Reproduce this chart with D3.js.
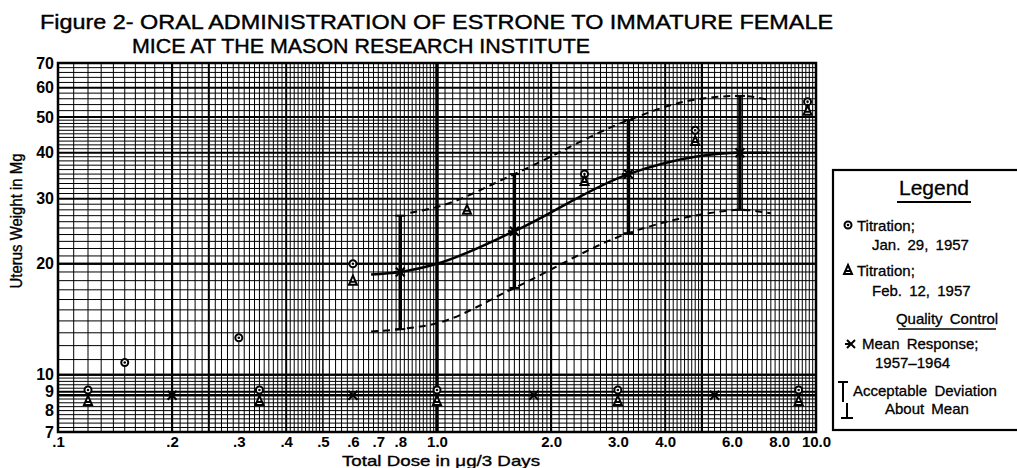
<!DOCTYPE html>
<html><head><meta charset="utf-8">
<script src="https://cdn.jsdelivr.net/npm/d3@7"></script>
<style>
body{margin:0;background:#fff;}
svg{display:block;font-family:"Liberation Sans",Arial,sans-serif;}
</style></head>
<body>
<svg id="c" width="1017" height="468"></svg>
<script>
// ---------- DATA ----------
const titleLines = ["Figure 2- ORAL ADMINISTRATION OF ESTRONE TO IMMATURE FEMALE","MICE AT THE MASON RESEARCH INSTITUTE"];
const xTickValues = [0.1,0.2,0.3,0.4,0.5,0.6,0.7,0.8,1,2,3,4,6,8,10];
const xTickLabels = [".1",".2",".3",".4",".5",".6",".7",".8","1.0","2.0","3.0","4.0","6.0","8.0","10.0"];
const yTickValues = [70,60,50,40,30,20,10,9,8,7];
const yTickLabels = ["70","60","50","40","30","20","10","9","8","7"];

// Quality control: mean response curve and deviation limits (dose, weight)
const meanDose   = [0.67,0.8,1.0,1.6,3.2,4.8,6.3,7.5];
const meanWeight = [18.7,19.0,20.0,24.5,35.0,39.0,40.0,40.0];
const upperDose   = [0.85,1.0,1.6,3.2,4.5,6.3,7.6];
const upperWeight = [27.5,28.5,35.0,49.0,55.0,57.0,55.5];
const lowerDose   = [0.67,0.8,1.0,1.6,3.2,5.2,6.3,7.6];
const lowerWeight = [13.1,13.3,13.8,17.2,24.2,27.4,28.0,27.4];

// Mean response points with acceptable deviation bars
const qcDose = [0.8,1.6,3.2,6.3];
const qcMean = [19.0,24.5,35.0,40.0];
const qcLow  = [13.3,17.2,24.2,28.0];
const qcHigh = [27.0,35.0,49.0,57.0];

// Titration Jan. 29, 1957 (circles)
const janDose   = [0.15,0.3,0.6,2.45,4.8,9.5];
const janWeight = [10.8,12.6,20.0,35.0,46.0,55.0];
// Titration Feb. 12, 1957 (triangles)
const febDose   = [0.6,1.2,2.45,4.8,9.5];
const febWeight = [18.0,28.0,33.5,43.0,52.0];

// Control row along ~9 mg
const controlLevel = 8.8;
const controlMeanDose = [0.2,0.6,1.8,5.4];
const controlTitrDose = [0.12,0.34,1.0,3.0,9.0];
const controlJanWeight = 9.1;
const controlFebWeight = 8.5;

// ---------- CHART ----------
const svg = d3.select("#c");
const L=58, R=816, T=63, B=432;
const x = d3.scaleLog().domain([0.1,10]).range([L,R]);
const y = d3.scaleLog().domain([7,70]).range([B,T]);

// Title
svg.append("text").attr("x",40).attr("y",29).attr("font-size",20).attr("textLength",793)
  .attr("lengthAdjust","spacingAndGlyphs").attr("stroke","#000").attr("stroke-width",0.4).text(titleLines[0]);
svg.append("text").attr("x",132).attr("y",53).attr("font-size",20).attr("textLength",458)
  .attr("lengthAdjust","spacingAndGlyphs").attr("stroke","#000").attr("stroke-width",0.4).text(titleLines[1]);

// Graph-paper grid
const grid = svg.append("g");
function rng(a,b,s){const out=[];for(let v=a;v<=b+1e-9;v+=s)out.push(+v.toFixed(4));return out;}
const vLines = [].concat(rng(0.1,0.2,0.01),rng(0.2,0.5,0.01),rng(0.5,1,0.02),rng(1,2,0.05),rng(2,5,0.1),rng(5,10,0.2));
const hLines = [].concat(rng(7,10,0.2),rng(10,20,1),rng(20,50,1),rng(50,70,2));
const vMajor = [0.2,0.25,0.4,1,2,4,5];
const hMajor = [9,10,20,30,40,50,60];
grid.selectAll(".v").data(vLines).join("line")
  .attr("x1",d=>x(d)).attr("x2",d=>x(d)).attr("y1",T).attr("y2",B)
  .attr("stroke","#000").attr("stroke-width",d=>vMajor.some(m=>Math.abs(m-d)<1e-6)?(d===1?3:2):1);
grid.selectAll(".h").data(hLines).join("line")
  .attr("x1",L).attr("x2",R).attr("y1",d=>y(d)).attr("y2",d=>y(d))
  .attr("stroke","#000").attr("stroke-width",d=>hMajor.some(m=>Math.abs(m-d)<1e-6)?2:1);
svg.append("rect").attr("x",L).attr("y",T).attr("width",R-L).attr("height",B-T)
  .attr("fill","none").attr("stroke","#000").attr("stroke-width",2.5);

// Axes labels
const yAxis = d3.axisLeft(y).tickValues(yTickValues).tickSize(0).tickPadding(4)
  .tickFormat((d,i)=>yTickLabels[i]);
const gy = svg.append("g").attr("transform",`translate(${L},0)`).call(yAxis);
gy.select(".domain").remove();
gy.selectAll("text").attr("font-size",16).attr("font-weight","bold").attr("font-family","Liberation Sans, Arial, sans-serif").attr("fill","#000");

const xAxis = d3.axisBottom(x).tickValues(xTickValues).tickSize(0).tickPadding(4)
  .tickFormat((d,i)=>xTickLabels[i]);
const gx = svg.append("g").attr("transform",`translate(0,${B})`).call(xAxis);
gx.select(".domain").remove();
gx.selectAll("text").attr("font-size",15).attr("font-weight","bold").attr("font-family","Liberation Sans, Arial, sans-serif").attr("fill","#000");

svg.append("text").attr("x",342).attr("y",466).attr("font-size",15).attr("textLength",198)
  .attr("lengthAdjust","spacingAndGlyphs").attr("stroke","#000").attr("stroke-width",0.35).text("Total Dose in \u03BCg/3 Days");
svg.append("text").attr("transform","translate(22,221) rotate(-90)").attr("text-anchor","middle")
  .attr("font-size",16).attr("textLength",135).attr("lengthAdjust","spacingAndGlyphs")
  .attr("stroke","#000").attr("stroke-width",0.35).text("Uterus Weight in Mg");

// Curves
const line = d3.line().x(d=>x(d[0])).y(d=>y(d[1])).curve(d3.curveMonotoneX);
const plot = svg.append("g");
plot.append("path").datum(d3.zip(meanDose,meanWeight)).attr("d",line)
  .attr("fill","none").attr("stroke","#000").attr("stroke-width",2.5);
plot.append("path").datum(d3.zip(upperDose,upperWeight)).attr("d",line)
  .attr("fill","none").attr("stroke","#000").attr("stroke-width",2).attr("stroke-dasharray","7,5");
plot.append("path").datum(d3.zip(lowerDose,lowerWeight)).attr("d",line)
  .attr("fill","none").attr("stroke","#000").attr("stroke-width",2).attr("stroke-dasharray","7,5");

// Control level line
plot.append("line").attr("x1",L).attr("x2",R).attr("y1",y(controlLevel)).attr("y2",y(controlLevel))
  .attr("stroke","#000").attr("stroke-width",2.5);

// Deviation bars
qcDose.forEach((d,i)=>{
  const g = plot.append("g").attr("stroke","#000");
  g.append("line").attr("x1",x(d)).attr("x2",x(d)).attr("y1",y(qcLow[i])).attr("y2",y(qcHigh[i])).attr("stroke-width",3.5);
  g.append("line").attr("x1",x(d)-5).attr("x2",x(d)+5).attr("y1",y(qcHigh[i])).attr("y2",y(qcHigh[i])).attr("stroke-width",2);
  g.append("line").attr("x1",x(d)-5).attr("x2",x(d)+5).attr("y1",y(qcLow[i])).attr("y2",y(qcLow[i])).attr("stroke-width",2);
});

function cross(g,cx,cy,s){
  g.append("path").attr("d",`M${cx-s},${cy-s}L${cx+s},${cy+s}M${cx-s},${cy+s}L${cx+s},${cy-s}M${cx-s-2},${cy}L${cx-1},${cy}`)
   .attr("stroke","#000").attr("stroke-width",2).attr("fill","none");
}
function circ(g,cx,cy){
  g.append("circle").attr("cx",cx).attr("cy",cy).attr("r",3.5).attr("fill","#fff").attr("stroke","#000").attr("stroke-width",2);
  g.append("circle").attr("cx",cx).attr("cy",cy).attr("r",1.3).attr("fill","#000");
}
function tri(g,cx,cy){
  g.append("path").attr("d",`M${cx},${cy-5}L${cx+4},${cy+4}L${cx-4},${cy+4}Z M${cx-2.5},${cy+1}L${cx+2.5},${cy+1}`)
   .attr("fill","#fff").attr("stroke","#000").attr("stroke-width",2);
}

qcDose.forEach((d,i)=>cross(plot,x(d),y(qcMean[i]),4.5));
controlMeanDose.forEach(d=>cross(plot,x(d),y(controlLevel),4.5));
janDose.forEach((d,i)=>circ(plot,x(d),y(janWeight[i])));
febDose.forEach((d,i)=>tri(plot,x(d),y(febWeight[i])));
controlTitrDose.forEach(d=>{circ(plot,x(d),y(controlJanWeight));tri(plot,x(d),y(controlFebWeight));});

// Legend
const lg = svg.append("g");
lg.append("rect").attr("x",833).attr("y",170).attr("width",220).attr("height",260)
  .attr("fill","#fff").attr("stroke","#000").attr("stroke-width",2.2);
const lt = (tx,ty,txt,size,extra)=>{const t=lg.append("text").attr("x",tx).attr("y",ty).attr("font-size",size||15)
  .attr("stroke","#000").attr("stroke-width",0.3).attr("word-spacing",3).text(txt); if(extra)extra(t); return t;};
lt(934,195,"Legend",21,t=>t.attr("text-anchor","middle").attr("word-spacing",0));
lg.append("line").attr("x1",897).attr("x2",971).attr("y1",202).attr("y2",202).attr("stroke","#000").attr("stroke-width",2);
circ(lg,848,225);
lt(857,231,"Titration;");
lt(872,250,"Jan. 29, 1957");
tri(lg,848,270);
lt(857,276,"Titration;");
lt(872,296,"Feb. 12, 1957");
lt(947,324,"Quality Control",15,t=>t.attr("text-anchor","middle"));
lg.append("line").attr("x1",898).attr("x2",996).attr("y1",329).attr("y2",329).attr("stroke","#000").attr("stroke-width",1.6);
cross(lg,851,344,4);
lt(862,349,"Mean Response;");
lt(875,368,"1957\u20131964");
lg.append("path").attr("d","M843,382V402M838,382H848").attr("stroke","#000").attr("stroke-width",2).attr("fill","none");
lt(853,396,"Acceptable Deviation");
lg.append("path").attr("d","M847,403V418M841,418H853").attr("stroke","#000").attr("stroke-width",2).attr("fill","none");
lt(885,414,"About Mean");
</script>
</body></html>
